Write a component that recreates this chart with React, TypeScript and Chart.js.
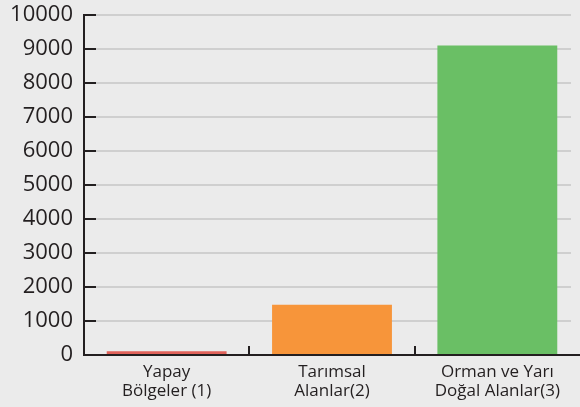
import React, { useEffect, useRef } from "react";
import { Chart, registerables } from "chart.js";

Chart.register(...registerables);

const categories: string[][] = [
  ["Yapay", "Bölgeler (1)"],
  ["Tarımsal", "Alanlar(2)"],
  ["Orman ve Yarı", "Doğal Alanlar(3)"],
];
const values: number[] = [110, 1480, 9100];
const barColors: string[] = ["#e0625a", "#f7953a", "#6abf65"];
const yMax = 10000;
const yStep = 1000;

const DARK = "#231f20";
const GRID = "#cfcfcf";
const BG = "#ebebeb";

const axesPlugin = {
  id: "customAxes",
  beforeDatasetsDraw(chart: any) {
    const { ctx, chartArea, scales } = chart;
    const y = scales.y;
    ctx.save();
    ctx.strokeStyle = GRID;
    ctx.lineWidth = 2;
    y.ticks.forEach((t: any) => {
      if (t.value === 0) return;
      const py = Math.round(y.getPixelForValue(t.value));
      ctx.beginPath();
      ctx.moveTo(chartArea.left, py);
      ctx.lineTo(chartArea.right - 9, py);
      ctx.stroke();
    });
    ctx.restore();
  },
  afterDatasetsDraw(chart: any) {
    const { ctx, chartArea, scales } = chart;
    const y = scales.y;
    const x = scales.x;
    ctx.save();
    ctx.strokeStyle = DARK;
    ctx.lineWidth = 2;
    const bottom = Math.round(y.getPixelForValue(0));
    ctx.beginPath();
    ctx.moveTo(chartArea.left, Math.round(y.getPixelForValue(yMax)) - 1);
    ctx.lineTo(chartArea.left, bottom + 1);
    ctx.stroke();
    ctx.beginPath();
    ctx.moveTo(chartArea.left - 1, bottom);
    ctx.lineTo(chartArea.right, bottom);
    ctx.stroke();
    y.ticks.forEach((t: any) => {
      const py = Math.round(y.getPixelForValue(t.value));
      ctx.beginPath();
      ctx.moveTo(chartArea.left, py);
      ctx.lineTo(chartArea.left + 12, py);
      ctx.stroke();
    });
    for (let i = 0; i < categories.length - 1; i++) {
      const px = Math.round((x.getPixelForValue(i) + x.getPixelForValue(i + 1)) / 2);
      ctx.beginPath();
      ctx.moveTo(px, bottom);
      ctx.lineTo(px, bottom - 9);
      ctx.stroke();
    }
    ctx.restore();
  },
};

export default function App() {
  const ref = useRef<HTMLCanvasElement | null>(null);
  useEffect(() => {
    document.body.style.margin = "0";
    document.body.style.background = BG;
    const chart = new Chart(ref.current as HTMLCanvasElement, {
      type: "bar",
      data: {
        labels: categories,
        datasets: [
          {
            data: values,
            backgroundColor: barColors,
            borderWidth: 0,
            categoryPercentage: 0.725,
            barPercentage: 1,
          },
        ],
      },
      options: {
        animation: false,
        responsive: false,
        maintainAspectRatio: false,
        layout: { padding: { top: 15, right: 0, left: 0, bottom: 0 } },
        plugins: { legend: { display: false }, tooltip: { enabled: false } },
        scales: {
          x: {
            grid: { display: false, drawTicks: false },
            border: { display: false },
            ticks: {
              color: DARK,
              font: { family: "'Open Sans'", size: 17, lineHeight: 1.12 },
              padding: 8,
              maxRotation: 0,
              autoSkip: false,
            },
            afterFit(scale: any) {
              scale.height = 52;
              scale.paddingLeft = 0;
              scale.paddingRight = 0;
            },
          },
          y: {
            min: 0,
            max: yMax,
            grid: { display: false, drawTicks: false },
            border: { display: false },
            ticks: {
              stepSize: yStep,
              color: DARK,
              font: { family: "'Open Sans'", size: 22 },
              padding: 11,
              callback: (v: any) => String(v),
            },
            afterFit(scale: any) {
              scale.width = 84;
              scale.paddingTop = 0;
              scale.paddingBottom = 0;
            },
          },
        },
      },
      plugins: [axesPlugin],
    });
    return () => chart.destroy();
  }, []);
  return (
    <div style={{ width: 580, height: 407, background: BG }}>
      <canvas ref={ref} width={580} height={407} style={{ display: "block" }} />
    </div>
  );
}
